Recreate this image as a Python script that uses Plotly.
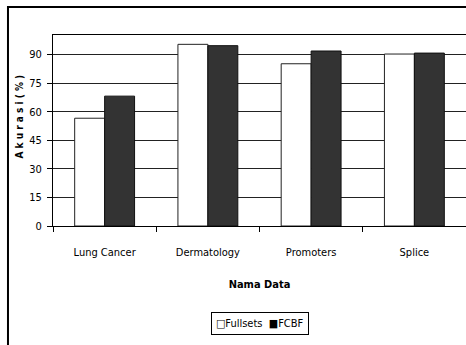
import plotly.graph_objects as go

# Dataset names and accuracy (%) for each feature-set configuration
datasets = ["Lung Cancer", "Dermatology", "Promoters", "Splice"]
fullsets = [56.6, 95.4, 85.2, 90.3]
fcbf = [68.2, 94.7, 91.9, 90.8]
y_ticks = [0, 15, 30, 45, 60, 75, 90]
series_names = ["Fullsets", "FCBF"]

FONT = "Liberation Sans Narrow, Arial Narrow, DejaVu Sans Condensed, Roboto Condensed, sans-serif"
NB = "\u00a0"

def spaced(s, gap=1):
    return (NB * gap).join(s)

fig = go.Figure()
fig.add_trace(go.Bar(
    name=series_names[0], x=datasets, y=fullsets,
    marker=dict(color="white", line=dict(color="#222", width=1)),
))
fig.add_trace(go.Bar(
    name=series_names[1], x=datasets, y=fcbf,
    marker=dict(color="#333333", line=dict(color="#111", width=1)),
))

# compact boxed key under the axis title
legend_text = "\u25a1" + series_names[0] + NB * 2 + "\u25a0" + series_names[1]

fig.update_layout(
    width=466, height=345,
    margin=dict(l=53, r=0, t=35, b=119),
    paper_bgcolor="white", plot_bgcolor="white",
    barmode="group", bargap=0.42, bargroupgap=0,
    font=dict(family=FONT, size=11, color="black"),
    showlegend=False,
    xaxis=dict(
        type="category", tickson="boundaries", ticks="outside", ticklen=5,
        tickcolor="black", showline=True, linecolor="black", linewidth=1,
        mirror=True, showgrid=False, ticklabelstandoff=16,
        title=dict(text="<b>Nama Data</b>", standoff=22,
                   font=dict(family=FONT, size=11)),
    ),
    yaxis=dict(
        range=[0, 100.3], tickvals=y_ticks, ticks="outside", ticklen=5,
        tickcolor="black", showline=True, linecolor="black", linewidth=1,
        showgrid=True, gridcolor="#222", gridwidth=1, zeroline=False,
        ticklabelstandoff=3,
    ),
    annotations=[
        dict(
            text="<b>" + spaced("Akurasi") + NB + spaced("(%)") + "</b>",
            textangle=-90,
            xref="paper", yref="paper", x=-0.08, y=0.573,
            xanchor="center", yanchor="middle", showarrow=False,
            font=dict(family=FONT, size=10),
        ),
        dict(
            text=legend_text,
            xref="paper", yref="paper", x=0.5, y=-0.513,
            xanchor="center", yanchor="middle", showarrow=False,
            bordercolor="black", borderwidth=1, borderpad=4, bgcolor="white",
            font=dict(family=FONT, size=11),
        ),
    ],
    shapes=[dict(
        type="rect", xref="paper", yref="paper",
        x0=-0.109, x1=1.2, y0=-1.0, y1=1.147,
        line=dict(color="black", width=2), layer="above",
    )],
)

fig.write_html("out.html")
